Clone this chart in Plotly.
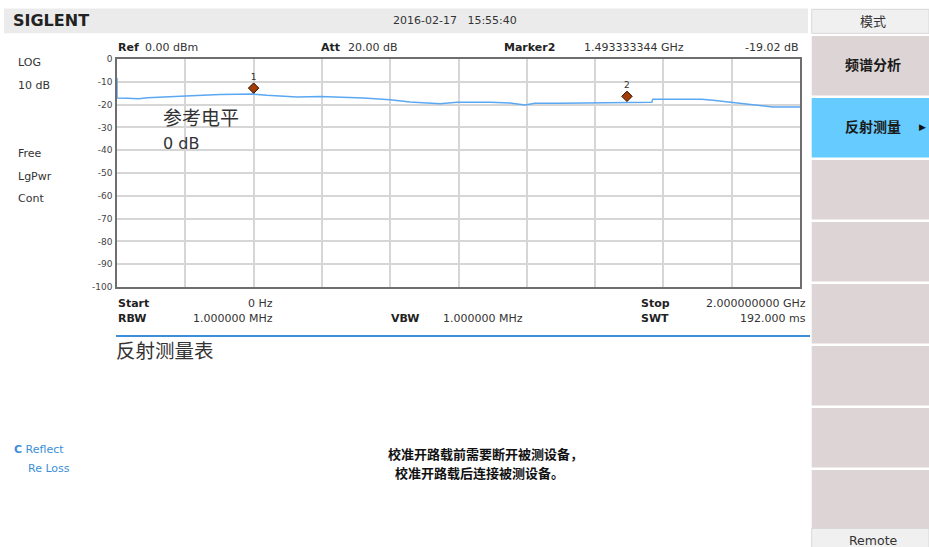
import plotly.graph_objects as go

# ---------------- data ----------------
freq_ghz = [0.0, 0.0, 0.03, 0.063, 0.09, 0.127, 0.185, 0.234, 0.302, 0.36, 0.40, 0.439,
            0.48, 0.527, 0.595, 0.654, 0.722, 0.80, 0.858, 0.946, 0.995, 1.093, 1.15,
            1.195, 1.224, 1.30, 1.365, 1.39, 1.463, 1.566, 1.569, 1.712, 1.745, 1.795,
            1.854, 1.921, 2.0]
level_db = [-8.3, -17.1, -17.2, -17.4, -17.0, -16.7, -16.2, -16.0, -15.6, -15.4, -15.4, -15.9,
            -16.3, -16.7, -16.4, -16.7, -17.1, -17.9, -18.9, -19.6, -19.0, -19.0, -19.3,
            -20.2, -19.4, -19.4, -19.3, -19.0, -19.0, -19.0, -17.6, -17.6, -18.1, -19.0,
            -20.2, -21.1, -21.1]
marker_names = ["1", "2"]
marker_freq = [0.4, 1.493333344]
marker_level = [-15.4, -19.02]

y_ticks = [0, -10, -20, -30, -40, -50, -60, -70, -80, -90, -100]
x_grid = [0.0, 0.2, 0.4, 0.6, 0.8, 1.0, 1.2, 1.4, 1.6, 1.8, 2.0]

menu_items = ["频谱分析", "反射测量", "", "", "", "", "", ""]
left_status = ["LOG", "10 dB", "Free", "LgPwr", "Cont"]
message_lines = ["校准开路载前需要断开被测设备，", "校准开路载后连接被测设备。"]

# ---------------- layout geometry ----------------
W, H = 929, 547
L, R, T, B = 117, 800, 59, 287


def px(x):
    return (x - L) / (R - L)


def py(y):
    return (B - y) / (B - T)


LAT = "DejaVu Sans"
CJK = "Noto Sans CJK SC"

fig = go.Figure()

fig.add_trace(go.Scatter(x=freq_ghz, y=level_db, mode="lines",
                         line=dict(color="#5aa8f2", width=1.5),
                         hoverinfo="skip", showlegend=False))

fig.add_trace(go.Scatter(x=marker_freq, y=marker_level, mode="markers+text",
                         text=marker_names, textposition="top center",
                         textfont=dict(family=LAT, size=9, color="#333333"),
                         marker=dict(symbol="diamond", size=8, color="#a33c05",
                                     line=dict(color="#2b0e00", width=1)),
                         yaxis="y2", showlegend=False, hoverinfo="skip"))

fig.update_xaxes(range=[0, 2], showticklabels=False, ticks="",
                 tickvals=x_grid, showgrid=True, gridcolor="#d6d6d6", gridwidth=1.5,
                 showline=True, mirror=True, linecolor="#6e6e6e", linewidth=1.5,
                 zeroline=False, fixedrange=True, layer="below traces")
fig.update_yaxes(range=[-100, 0], tickvals=y_ticks, ticktext=[str(v) for v in y_ticks],
                 tickfont=dict(family=LAT, size=9, color="#444444"), ticks="",
                 ticklabelstandoff=1,
                 showgrid=True, gridcolor="#d6d6d6", gridwidth=1.5,
                 showline=True, mirror=True, linecolor="#6e6e6e", linewidth=1.5,
                 zeroline=False, fixedrange=True, layer="below traces")

annotations = []
shapes = []


def text(s, x, y, size=11, color="#333333", family=LAT, xanchor="left", bold=False):
    if bold:
        s = "<b>" + s + "</b>"
    annotations.append(dict(text=s, x=px(x), y=py(y), xref="paper", yref="paper",
                            xanchor=xanchor, yanchor="middle", showarrow=False,
                            align="center",
                            font=dict(family=family, size=size, color=color)))


def rect(x0, y0, x1, y1, fill, line=None):
    shapes.append(dict(type="rect", xref="paper", yref="paper",
                       x0=px(x0), x1=px(x1), y0=py(y1), y1=py(y0),
                       fillcolor=fill, line=dict(width=1 if line else 0, color=line or fill),
                       layer="below"))


# header bar
rect(4, 8.5, 808, 33.3, "#ebebeb")
text("SIGLENT", 11, 21, size=16, color="#222222", bold=True)
text("2016-02-17   15:55:40", 455, 20, size=11, color="#333333", xanchor="center")

# top info row
text("Ref", 116, 47, size=11, color="#222222", bold=True)
text("0.00 dBm", 143, 47, size=11)
text("Att", 319, 47, size=11, color="#222222", bold=True)
text("20.00 dB", 346, 47, size=11)
text("Marker2", 502, 47, size=11, color="#222222", bold=True)
text("1.493333344 GHz", 582, 47, size=11)
text("-19.02 dB", 801, 47, size=11, xanchor="right")

# left status column
for s, y in zip(left_status, [62, 85, 153, 176, 198]):
    text(s, 16, y, size=11)

# in-plot text
text("参考电平", 161, 116, size=19, family=CJK)
text("0 dB", 161, 143, size=16)

# bottom info rows
text("Start", 116, 303, size=11, color="#222222", bold=True)
text("0 Hz", 275, 303, size=11, xanchor="right")
text("RBW", 116, 318, size=11, color="#222222", bold=True)
text("1.000000 MHz", 275, 318, size=11, xanchor="right")
text("VBW", 389, 318, size=11, color="#222222", bold=True)
text("1.000000 MHz", 441, 318, size=11)
text("Stop", 639, 303, size=11, color="#222222", bold=True)
text("2.000000000 GHz", 808, 303, size=11, xanchor="right")
text("SWT", 639, 318, size=11, color="#222222", bold=True)
text("192.000 ms", 808, 318, size=11, xanchor="right")

# blue separator
shapes.append(dict(type="line", xref="paper", yref="paper",
                   x0=px(116), x1=px(810), y0=py(336), y1=py(336),
                   line=dict(color="#3b8ed8", width=2)))
text("反射测量表", 114, 349, size=19.5, family=CJK)

# left reflect labels
text("<b>C</b> Reflect", 12, 449, size=11, color="#3b8ed8")
text("Re Loss", 26, 468, size=11, color="#3b8ed8")

# centre message
text(message_lines[0], 485, 453.5, size=13, color="#111111",
     family=CJK, xanchor="center", bold=True)
text(message_lines[1], 479, 472.5, size=13, color="#111111",
     family=CJK, xanchor="center", bold=True)

# right menu panel
rect(811.7, 9.3, 929, 33.3, "#f0f0f0", "#d8d8d8")
text("模式", 873, 21, size=13, family=CJK, xanchor="center")
box_top = 36.0
pitch = 62.0
for i, label in enumerate(menu_items):
    y0 = box_top + i * pitch
    y1 = y0 + 59.5
    fill = "#66ccff" if i == 1 else "#ddd5d5"
    rect(811.7, y0, 929, y1, fill)
    if label:
        text(label, 873, (y0 + y1) / 2 - 2, size=14, color="#1a1a1a",
             family=CJK, xanchor="center", bold=True)
text("▶", 928, 127, size=9, color="#111111", xanchor="right")
rect(811.7, 528.5, 929, 548, "#f0f0f0", "#d8d8d8")
text("Remote", 873, 540, size=12.5, color="#333333", xanchor="center")

fig.update_layout(
    width=W, height=H,
    margin=dict(l=L, r=W - R, t=T, b=H - B, pad=0),
    paper_bgcolor="white", plot_bgcolor="white",
    showlegend=False,
    yaxis2=dict(overlaying="y", range=[-102.63, -2.63], visible=False, fixedrange=True),
    annotations=annotations, shapes=shapes,
)

fig.write_html("out.html", config={"displayModeBar": False},
               post_script="document.body.style.margin='0';")
